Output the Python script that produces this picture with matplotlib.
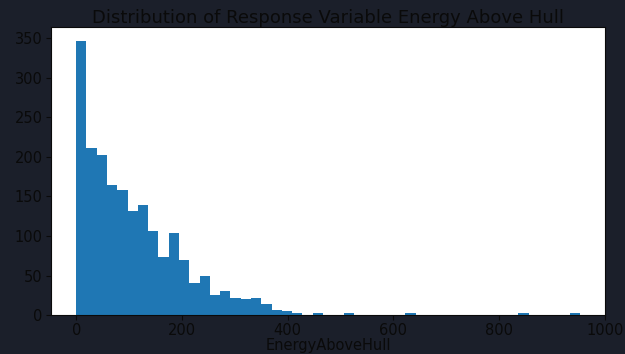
import matplotlib
matplotlib.use("Agg")
import matplotlib.pyplot as plt
import numpy as np

# histogram of energy above hull: bin range and per-bin counts
bin_min = 0.0
bin_max = 953.0
n_bins = 49
counts = [347, 211, 203, 164, 158, 131, 139, 106, 74, 104,
          69, 41, 49, 25, 31, 22, 20, 22, 14, 7,
          5, 3, 0, 2, 0, 0, 2, 0, 0, 0,
          0, 0, 3, 0, 0, 0, 0, 0, 0, 0,
          0, 0, 0, 3, 0, 0, 0, 0, 3]

title = "Distribution of Response Variable Energy Above Hull"
xlabel = "EnergyAboveHull"

bg = "#1b1f2a"
txt = "#0a0a0a"

edges = np.linspace(bin_min, bin_max, n_bins + 1)

fig = plt.figure(figsize=(6.25, 3.54), dpi=100, facecolor=bg)
ax = fig.add_axes([0.0816, 0.11, 0.887, 0.814])
ax.set_facecolor("white")

ax.hist(edges[:-1], bins=edges, weights=counts, color="#1f77b4")

ax.set_title(title, color=txt, fontsize=13, pad=3)
ax.set_xlabel(xlabel, color=txt, fontsize=10.5, labelpad=0)
ax.tick_params(colors=txt, labelsize=10.5, pad=2.5)
for s in ax.spines.values():
    s.set_color(txt)

fig.savefig("out.png", dpi=100, facecolor=bg)
